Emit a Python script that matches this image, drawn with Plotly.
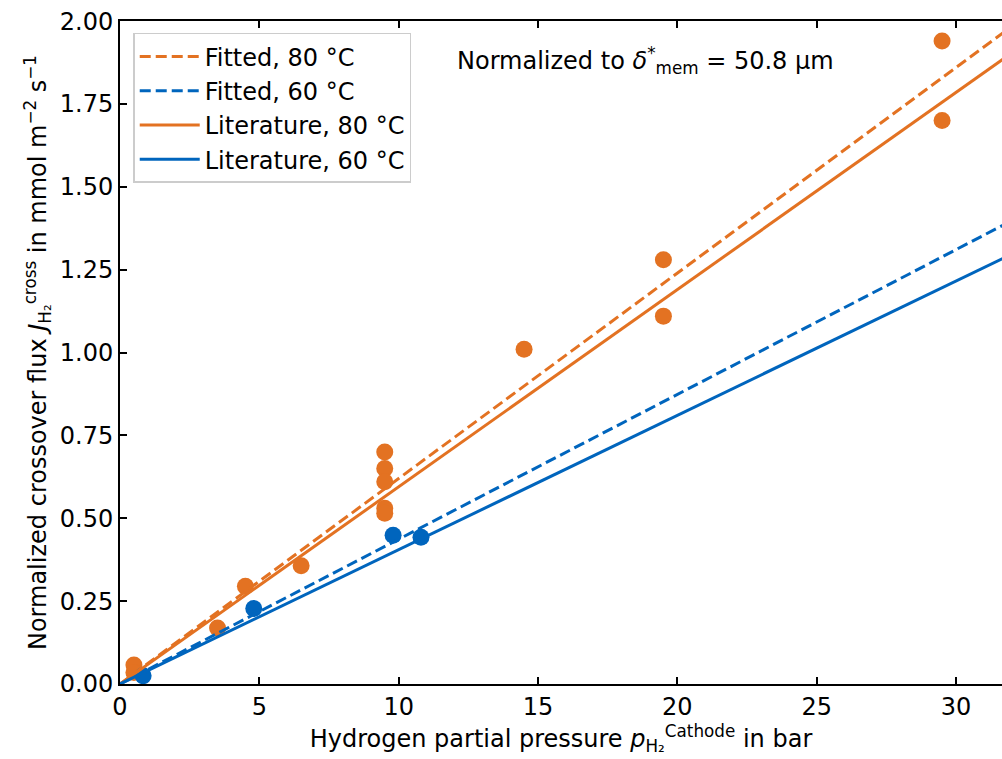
import plotly.graph_objects as go

ORANGE = "#E37222"
BLUE = "#0065BD"

# measured points, 80 degC
p_80 = [0.5, 0.5, 3.5, 4.5, 6.5, 9.5, 9.5, 9.5, 9.5, 9.5, 14.5, 19.5, 19.5, 29.5, 29.5]
j_80 = [0.057, 0.035, 0.169, 0.295, 0.357, 0.70, 0.65, 0.61, 0.53, 0.515, 1.01, 1.28, 1.11, 1.94, 1.70]

# measured points, 60 degC
p_60 = [0.83, 4.8, 9.8, 10.8]
j_60 = [0.025, 0.228, 0.449, 0.443]

# model lines (through origin)
line_p = [0, 32]
fitted_80 = [0, 1.984]
fitted_60 = [0, 1.398]
lit_80 = [0, 1.904]
lit_60 = [0, 1.297]

DASH = "11px,5px"

fig = go.Figure()

fig.add_trace(go.Scatter(x=p_80, y=j_80, mode="markers", showlegend=False,
                         marker=dict(color=ORANGE, size=17, line=dict(width=0))))
fig.add_trace(go.Scatter(x=p_60, y=j_60, mode="markers", showlegend=False,
                         marker=dict(color=BLUE, size=17, line=dict(width=0))))

fig.add_trace(go.Scatter(x=line_p, y=fitted_80, mode="lines", name="Fitted, 80 °C",
                         line=dict(color=ORANGE, width=3, dash=DASH)))
fig.add_trace(go.Scatter(x=line_p, y=fitted_60, mode="lines", name="Fitted, 60 °C",
                         line=dict(color=BLUE, width=3, dash=DASH)))
fig.add_trace(go.Scatter(x=line_p, y=lit_80, mode="lines", name="Literature, 80 °C",
                         line=dict(color=ORANGE, width=3)))
fig.add_trace(go.Scatter(x=line_p, y=lit_60, mode="lines", name="Literature, 60 °C",
                         line=dict(color=BLUE, width=3)))

fig.add_annotation(
    x=0.596, y=0.941, xref="paper", yref="paper", xanchor="center", yanchor="middle",
    text="Normalized to <i>δ</i><sup>*</sup><sub>mem</sub> = 50.8 µm",
    showarrow=False, font=dict(size=24, color="black"),
)

fig.update_layout(
    width=1002, height=759,
    margin=dict(l=120, r=0, t=21, b=75),
    plot_bgcolor="white", paper_bgcolor="white",
    font=dict(family="DejaVu Sans", size=24, color="black"),
    legend=dict(x=0.015, y=0.982, xanchor="left", yanchor="top",
                bgcolor="white", bordercolor="#cccccc", borderwidth=1.5,
                font=dict(size=24), itemwidth=60, tracegroupgap=0),
    xaxis=dict(
        range=[0, 31.65], tickvals=[0, 5, 10, 15, 20, 25, 30],
        ticks="inside", ticklen=7, tickwidth=1.5, tickcolor="black",
        showline=True, linecolor="black", linewidth=2, mirror="ticks",
        showgrid=False, zeroline=False, tickfont=dict(size=24),
        title=dict(text="Hydrogen partial pressure <i>p</i><sub>H₂</sub><sup>Cathode</sup> in bar",
                   font=dict(size=24), standoff=6),
    ),
    yaxis=dict(
        range=[0, 2.0005], tickvals=[0, 0.25, 0.5, 0.75, 1.0, 1.25, 1.5, 1.75, 2.0],
        tickformat=".2f", ticklabeloverflow="allow",
        ticks="inside", ticklen=7, tickwidth=1.5, tickcolor="black",
        showline=True, linecolor="black", linewidth=2,
        showgrid=False, zeroline=False, tickfont=dict(size=24),
        title=dict(text="Normalized crossover flux <i>J</i><sub>H₂</sub><sup>cross</sup> in mmol m<sup>−2</sup> s<sup>−1</sup>",
                   font=dict(size=24), standoff=6),
    ),
)

# drop the default page margin so the figure sits at the window's corner
fig.write_html("out.html", config={"displayModeBar": False},
               post_script="document.body.style.margin='0';document.body.style.overflow='hidden';")
